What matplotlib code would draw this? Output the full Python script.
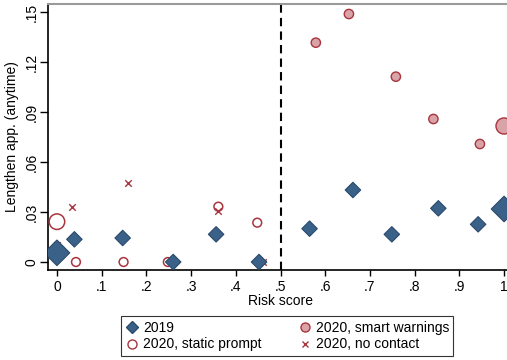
import matplotlib
matplotlib.use("Agg")
import matplotlib.pyplot as plt
from matplotlib.lines import Line2D

plt.rcParams['font.family'] = ['Liberation Sans', 'DejaVu Sans']

# Binned means of the outcome by risk score
x_2019 = [0.0, 0.039, 0.147, 0.26, 0.356, 0.452, 0.565, 0.662, 0.749, 0.853, 0.942, 1.0]
y_2019 = [0.0055, 0.0136, 0.0144, 0.0, 0.0166, 0.0, 0.020, 0.0432, 0.0166, 0.0322, 0.0226, 0.0318]
big_2019 = [True, False, False, False, False, False, False, False, False, False, False, True]

x_smart = [0.579, 0.653, 0.758, 0.842, 0.946, 1.0]
y_smart = [0.1316, 0.1488, 0.1112, 0.0858, 0.0708, 0.0816]
big_smart = [False, False, False, False, False, True]

x_static = [0.0, 0.0425, 0.149, 0.248, 0.361, 0.448]
y_static = [0.0242, 0.0, 0.0, 0.0, 0.0332, 0.0236]
big_static = [True, False, False, False, False, False]

x_nocontact = [0.0, 0.033, 0.158, 0.26, 0.361, 0.46]
y_nocontact = [0.0102, 0.033, 0.0476, 0.0, 0.0308, 0.0]

x_ticks = [0, 0.1, 0.2, 0.3, 0.4, 0.5, 0.6, 0.7, 0.8, 0.9, 1.0]
x_ticklabels = ["0", ".1", ".2", ".3", ".4", ".5", ".6", ".7", ".8", ".9", "1"]
y_ticks = [0, 0.03, 0.06, 0.09, 0.12, 0.15]
y_ticklabels = ["0", ".03", ".06", ".09", ".12", ".15"]
cutoff = 0.5

navy = "#3a6288"
navy_edge = "#2a4a6c"
red = "#a8353e"
pink = "#d9a3a8"

fig = plt.figure(figsize=(5.07, 3.6), dpi=100)
ax = fig.add_axes([48/507, 0.25, 465/507, 266/360])
ax.set_xlim(-0.02, 1.02)
ax.set_ylim(-0.0048, 0.1548)

def sizes(flags, small, large):
    return [large if f else small for f in flags]

ax.scatter(x_static, y_static, s=sizes(big_static, 40, 125), facecolors="none",
           edgecolors=red, linewidths=1.1, zorder=3)
ax.scatter(x_smart, y_smart, s=sizes(big_smart, 45, 135), facecolors=pink,
           edgecolors=red, linewidths=1.0, zorder=3)
ax.scatter(x_nocontact, y_nocontact, s=22, marker="x", color=red,
           linewidths=1.0, zorder=3)
ax.scatter(x_2019, y_2019, s=sizes(big_2019, 62, 170), marker="D", facecolors=navy,
           edgecolors=navy_edge, linewidths=0.8, zorder=4)

ax.axvline(cutoff, color="black", linestyle=(0, (4, 2.5)), linewidth=1.5, zorder=2)

ax.set_xticks(x_ticks)
ax.set_xticklabels(x_ticklabels)
ax.set_yticks(y_ticks)
ax.set_yticklabels(y_ticklabels, rotation=90, va="center")
ax.tick_params(axis="x", direction="out", length=4.5, width=1, labelsize=10,
               colors="black", pad=3)
ax.tick_params(axis="y", direction="out", length=5.5, width=1, labelsize=10,
               colors="black", pad=1.5)
ax.set_xlabel("Risk score", fontsize=10, labelpad=0)
ax.set_ylabel("Lengthen app. (anytime)", fontsize=10, labelpad=4)

for side in ["left", "bottom"]:
    ax.spines[side].set_color("black")
    ax.spines[side].set_linewidth(1.2)
ax.spines["top"].set_color("#9a9a9a")
ax.spines["top"].set_linewidth(1.5)
ax.spines["right"].set_visible(False)

handles = [
    Line2D([], [], marker="D", linestyle="none", markersize=6.5, markerfacecolor=navy,
           markeredgecolor=navy_edge, label="2019"),
    Line2D([], [], marker="o", linestyle="none", markersize=6.5, markerfacecolor="none",
           markeredgecolor=red, label="2020, static prompt"),
    Line2D([], [], marker="o", linestyle="none", markersize=6.5, markerfacecolor=pink,
           markeredgecolor=red, label="2020, smart warnings"),
    Line2D([], [], marker="x", linestyle="none", markersize=4.5, color=red,
           label="2020, no contact"),
]
leg = fig.legend(handles=handles, ncol=2, loc="center",
                 bbox_to_anchor=(287/507, 1 - 336/360), fontsize=10,
                 frameon=True, fancybox=False, edgecolor="black",
                 handletextpad=0.3, columnspacing=2.6, labelspacing=0.2,
                 borderpad=0.3, handlelength=1.0)
leg.get_frame().set_linewidth(0.8)

fig.savefig("out.png", dpi=100)
